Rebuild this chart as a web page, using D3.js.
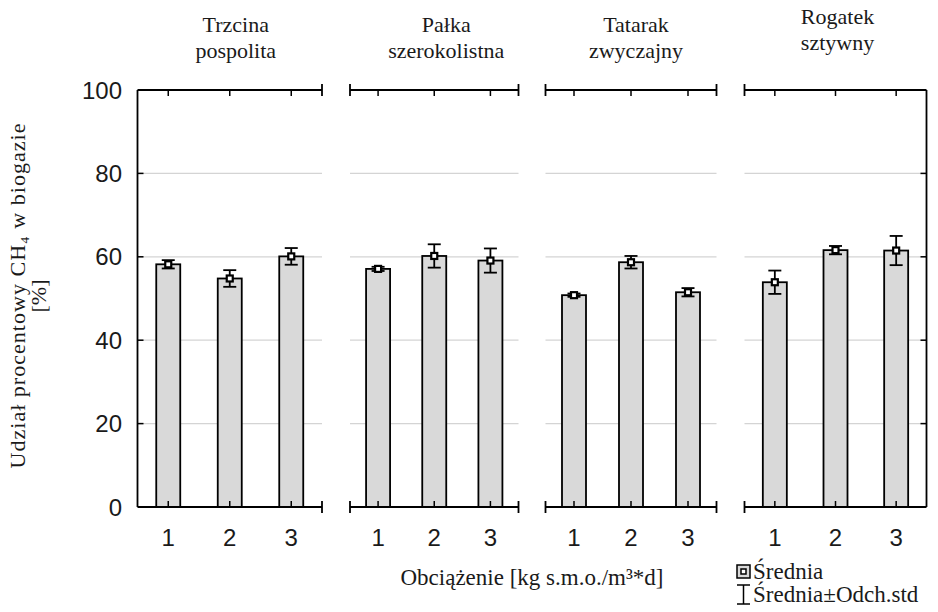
<!DOCTYPE html>
<html>
<head>
<meta charset="utf-8">
<script src="https://cdn.jsdelivr.net/npm/d3@7"></script>
<style>
  html, body { margin: 0; padding: 0; background: #fff; }
  svg { display: block; }
</style>
</head>
<body>
<svg id="chart" width="938" height="612"></svg>
<script>
// ---- data ----
const speciesLine1 = ["Trzcina", "Pałka", "Tatarak", "Rogatek"];
const speciesLine2 = ["pospolita", "szerokolistna", "zwyczajny", "sztywny"];
const loads = ["1", "2", "3"];
const meanTrzcina = [58.2, 54.8, 60.1];
const sdTrzcina = [1.0, 2.0, 2.0];
const meanPalka = [57.1, 60.2, 59.1];
const sdPalka = [0.5, 2.8, 2.9];
const meanTatarak = [50.8, 58.7, 51.5];
const sdTatarak = [0.4, 1.5, 1.0];
const meanRogatek = [53.9, 61.6, 61.5];
const sdRogatek = [2.8, 1.0, 3.5];
const yTicks = [0, 20, 40, 60, 80, 100];
const gridValues = [20, 40, 60, 80];
const yLabel = "Udział procentowy CH₄ w biogazie";
const yLabel2 = "[%]";
const xLabel = "Obciążenie [kg s.m.o./m³*d]";
const legendMean = "Średnia";
const legendSd = "Średnia±Odch.std";

const panels = speciesLine1.map((s, i) => ({
  t1: s, t2: speciesLine2[i],
  means: [meanTrzcina, meanPalka, meanTatarak, meanRogatek][i],
  sds: [sdTrzcina, sdPalka, sdTatarak, sdRogatek][i]
}));

// ---- layout ----
const panelX = [[137.5, 322], [350, 518.5], [545.5, 716.5], [744.5, 926.5]];
const yTop = 90, yBot = 507;
const sans = "'Liberation Sans', Arial, sans-serif";
const serif = "'Liberation Serif', 'Times New Roman', serif";
const barW = 24, capW = 13, tickLen = 6, endCap = 6;
const ink = "#000";
const textInk = "#1a1a1a";

const svg = d3.select("#chart");
const y = d3.scaleLinear().domain([0, 100]).range([yBot, yTop]);

panels.forEach((p, i) => {
  const [x0, x1] = panelX[i];
  const x = d3.scaleBand().domain(loads).range([x0, x1]).padding(0);
  const cx = d => x(d) + x.bandwidth() / 2;
  const g = svg.append("g");

  // grid
  g.selectAll("line.grid").data(gridValues).enter().append("line")
    .attr("x1", x0).attr("x2", x1)
    .attr("y1", d => y(d)).attr("y2", d => y(d))
    .attr("stroke", "#d4d4d4").attr("stroke-width", 1.3);

  // bars
  g.selectAll("rect.bar").data(loads).enter().append("rect")
    .attr("x", d => cx(d) - barW / 2)
    .attr("y", (d, j) => y(p.means[j]))
    .attr("width", barW)
    .attr("height", (d, j) => y(0) - y(p.means[j]))
    .attr("fill", "#d9d9d9").attr("stroke", ink).attr("stroke-width", 1.8);

  // top and bottom frame lines
  [yTop, yBot].forEach(yy => {
    g.append("line").attr("x1", x0).attr("x2", x1).attr("y1", yy).attr("y2", yy)
      .attr("stroke", ink).attr("stroke-width", 1.8);
  });
  // category ticks (inward)
  g.selectAll("line.tt").data(loads).enter().append("line")
    .attr("x1", d => cx(d)).attr("x2", d => cx(d))
    .attr("y1", yTop).attr("y2", yTop + tickLen)
    .attr("stroke", ink).attr("stroke-width", 1.5);
  g.selectAll("line.bt").data(loads).enter().append("line")
    .attr("x1", d => cx(d)).attr("x2", d => cx(d))
    .attr("y1", yBot).attr("y2", yBot - tickLen)
    .attr("stroke", ink).attr("stroke-width", 1.5);

  // end caps / side axes
  const caps = [];
  if (i === 0) {
    g.append("line").attr("x1", x0).attr("x2", x0).attr("y1", yTop).attr("y2", yBot)
      .attr("stroke", ink).attr("stroke-width", 1.8);
    g.selectAll("line.yt").data(yTicks.slice(1, -1)).enter().append("line")
      .attr("x1", x0).attr("x2", x0 + tickLen).attr("y1", d => y(d)).attr("y2", d => y(d))
      .attr("stroke", ink).attr("stroke-width", 1.5);
  } else caps.push(x0);
  if (i === panels.length - 1) {
    g.append("line").attr("x1", x1).attr("x2", x1).attr("y1", yTop).attr("y2", yBot)
      .attr("stroke", ink).attr("stroke-width", 1.8);
    g.selectAll("line.yt2").data(yTicks.slice(1, -1)).enter().append("line")
      .attr("x1", x1).attr("x2", x1 - tickLen).attr("y1", d => y(d)).attr("y2", d => y(d))
      .attr("stroke", ink).attr("stroke-width", 1.5);
  } else caps.push(x1);
  caps.forEach(cxp => {
    [yTop, yBot].forEach(yy => {
      g.append("line").attr("x1", cxp).attr("x2", cxp).attr("y1", yy - endCap).attr("y2", yy + endCap)
        .attr("stroke", ink).attr("stroke-width", 1.8);
    });
  });

  // error bars
  loads.forEach((d, j) => {
    const m = p.means[j], s = p.sds[j], c = cx(d);
    const eg = g.append("g").attr("stroke", ink).attr("stroke-width", 1.8).attr("fill", "none");
    eg.append("line").attr("x1", c).attr("x2", c).attr("y1", y(m + s)).attr("y2", y(m - s));
    eg.append("line").attr("x1", c - capW / 2).attr("x2", c + capW / 2).attr("y1", y(m + s)).attr("y2", y(m + s));
    eg.append("line").attr("x1", c - capW / 2).attr("x2", c + capW / 2).attr("y1", y(m - s)).attr("y2", y(m - s));
    eg.append("rect").attr("x", c - 3).attr("y", y(m) - 3).attr("width", 6).attr("height", 6)
      .attr("fill", "#fff").attr("stroke-width", 2.2);
  });

  // x tick labels
  g.selectAll("text.xl").data(loads).enter().append("text")
    .attr("x", d => cx(d)).attr("y", 546)
    .attr("text-anchor", "middle").attr("font-family", sans).attr("font-size", 24)
    .attr("fill", textInk).text(d => d);

  // titles
  const tcx = (x0 + x1) / 2 + (i === 0 ? 6 : (i === 1 ? 12 : (i === 2 ? 5 : 2)));
  const tyOff = i === 3 ? -8 : 0;
  g.append("text").attr("x", tcx).attr("y", 32 + tyOff).attr("text-anchor", "middle")
    .attr("font-family", serif).attr("font-size", 22).attr("fill", textInk).text(p.t1);
  g.append("text").attr("x", tcx).attr("y", 58 + tyOff).attr("text-anchor", "middle")
    .attr("font-family", serif).attr("font-size", 22).attr("fill", textInk).text(p.t2);
});

// y tick labels
svg.selectAll("text.yl").data(yTicks).enter().append("text")
  .attr("x", 122).attr("y", d => y(d) + 8.5)
  .attr("text-anchor", "end").attr("font-family", sans).attr("font-size", 24)
  .attr("fill", textInk).text(d => d);

// y axis label
const yl = svg.append("g").attr("transform", "translate(25,296) rotate(-90)");
yl.append("text").attr("x", 0).attr("y", 0).attr("text-anchor", "middle")
  .attr("font-family", serif).attr("font-size", 22).attr("fill", textInk)
  .attr("textLength", 345).attr("lengthAdjust", "spacing").text(yLabel);
yl.append("text").attr("x", 0).attr("y", 21).attr("text-anchor", "middle")
  .attr("font-family", serif).attr("font-size", 22).attr("fill", textInk).text(yLabel2);

// x axis label
svg.append("text").attr("x", 532).attr("y", 585).attr("text-anchor", "middle")
  .attr("font-family", serif).attr("font-size", 23).attr("fill", textInk).text(xLabel);

// legend
const lg = svg.append("g");
lg.append("rect").attr("x", 737).attr("y", 565).attr("width", 13).attr("height", 13)
  .attr("fill", "#d9d9d9").attr("stroke", ink).attr("stroke-width", 1.5);
lg.append("rect").attr("x", 741).attr("y", 569).attr("width", 5).attr("height", 5)
  .attr("fill", "#fff").attr("stroke", ink).attr("stroke-width", 1.5);
lg.append("text").attr("x", 753).attr("y", 579).attr("font-family", serif).attr("font-size", 23)
  .attr("fill", textInk).text(legendMean);
const ib = lg.append("g").attr("stroke", ink).attr("stroke-width", 1.5);
ib.append("line").attr("x1", 743.5).attr("x2", 743.5).attr("y1", 585).attr("y2", 604);
ib.append("line").attr("x1", 737).attr("x2", 750).attr("y1", 585).attr("y2", 585);
ib.append("line").attr("x1", 737).attr("x2", 750).attr("y1", 604).attr("y2", 604);
lg.append("text").attr("x", 753).attr("y", 602).attr("font-family", serif).attr("font-size", 23)
  .attr("fill", textInk).text(legendSd);
</script>
</body>
</html>
